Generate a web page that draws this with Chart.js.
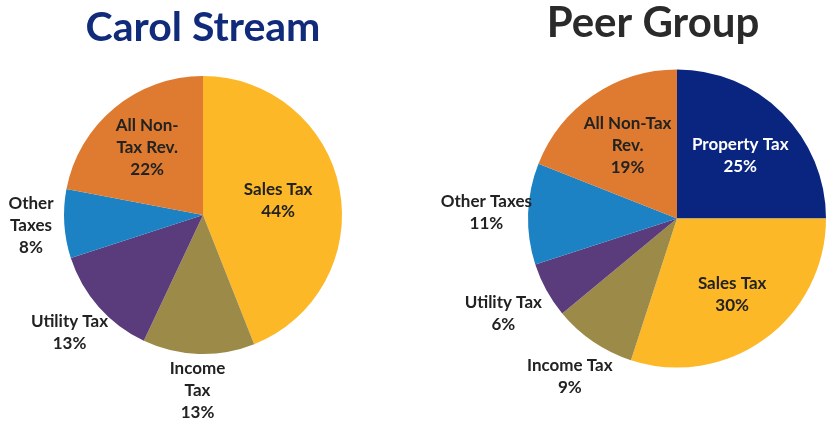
<!DOCTYPE html>
<html>
<head>
<meta charset="utf-8">
<script src="https://cdn.jsdelivr.net/npm/chart.js@4.4.1/dist/chart.umd.min.js"></script>
<style>
  html,body{margin:0;padding:0;background:#fff;overflow:hidden}
  #wrap{position:relative;width:826px;height:421px}
  canvas{position:absolute;top:0}
  #c1{left:0}
  #c2{left:413px}
</style>
</head>
<body>
<div id="wrap">
  <canvas id="c1" width="413" height="421"></canvas>
  <canvas id="c2" width="413" height="421"></canvas>
</div>
<script>
// Carol Stream (clockwise from 12 o'clock)
const csLabels = [['Sales Tax','44%'], ['Income','Tax','13%'], ['Utility Tax','13%'], ['Other','Taxes','8%'], ['All Non-','Tax Rev.','22%']];
const csValues = [44, 13, 13, 8, 22];
const csColors = ['#FDB827', '#9C8A48', '#5A3C7C', '#1C82C4', '#DE7B30'];

// Peer Group
const pgLabels = [['Property Tax','25%'], ['Sales Tax','30%'], ['Income Tax','9%'], ['Utility Tax','6%'], ['Other Taxes','11%'], ['All Non-Tax','Rev.','19%']];
const pgValues = [25, 30, 9, 6, 11, 19];
const pgColors = ['#0A2580', '#FDB827', '#9C8A48', '#5A3C7C', '#1C82C4', '#DE7B30'];

// where each label sits, as a fraction of the radius
const csLabelR = [0.55, 1.26, 1.28, 1.24, 0.63];
const pgLabelR = [0.6, 0.63, 1.28, 1.33, 1.28, 0.59];
const pgLabelColor = ['#fff', '#222', '#222', '#222', '#222', '#222'];

const FONT = 'Lato, "Open Sans", sans-serif';

const sliceLabels = {
  id: 'sliceLabels',
  afterDatasetsDraw(chart, args, opts) {
    const ctx = chart.ctx;
    const meta = chart.getDatasetMeta(0);
    ctx.save();
    ctx.textAlign = 'center';
    ctx.textBaseline = 'middle';
    ctx.font = 'bold 17px ' + FONT;
    meta.data.forEach((arc, i) => {
      const p = arc.getProps(['x','y','startAngle','endAngle','outerRadius'], true);
      const mid = (p.startAngle + p.endAngle) / 2;
      const r = p.outerRadius * opts.radius[i];
      const x = p.x + Math.cos(mid) * r, y = p.y + Math.sin(mid) * r;
      const lines = chart.data.labels[i];
      const lh = 22;
      ctx.fillStyle = opts.colors ? opts.colors[i] : '#222';
      lines.forEach((t, k) => ctx.fillText(t, x, y + (k - (lines.length - 1) / 2) * lh));
    });
    ctx.restore();
  }
};

const heading = {
  id: 'heading',
  afterDraw(chart, args, opts) {
    const ctx = chart.ctx;
    ctx.save();
    ctx.textAlign = 'center';
    ctx.textBaseline = 'alphabetic';
    ctx.font = 'bold ' + opts.size + 'px ' + FONT;
    ctx.fillStyle = opts.color;
    ctx.fillText(opts.text, opts.x, opts.y);
    ctx.restore();
  }
};

function makePie(id, labels, values, colors, pad, labelR, labelColors, title) {
  return new Chart(document.getElementById(id), {
    type: 'pie',
    data: { labels, datasets: [{ data: values, backgroundColor: colors, borderWidth: 0 }] },
    options: {
      responsive: false,
      animation: false,
      layout: { padding: pad },
      plugins: {
        legend: { display: false },
        tooltip: { enabled: false },
        sliceLabels: { radius: labelR, colors: labelColors },
        heading: title
      }
    },
    plugins: [sliceLabels, heading]
  });
}

makePie('c1', csLabels, csValues, csColors, { left: 64, right: 71, top: 76, bottom: 67 }, csLabelR, null,
  { text: 'Carol Stream', color: '#112B7B', size: 41, x: 203, y: 41 });
makePie('c2', pgLabels, pgValues, pgColors, { left: 115, right: 0, top: 69, bottom: 53 }, pgLabelR, pgLabelColor,
  { text: 'Peer Group', color: '#2A2A2A', size: 42, x: 240, y: 37 });
</script>
</body>
</html>
